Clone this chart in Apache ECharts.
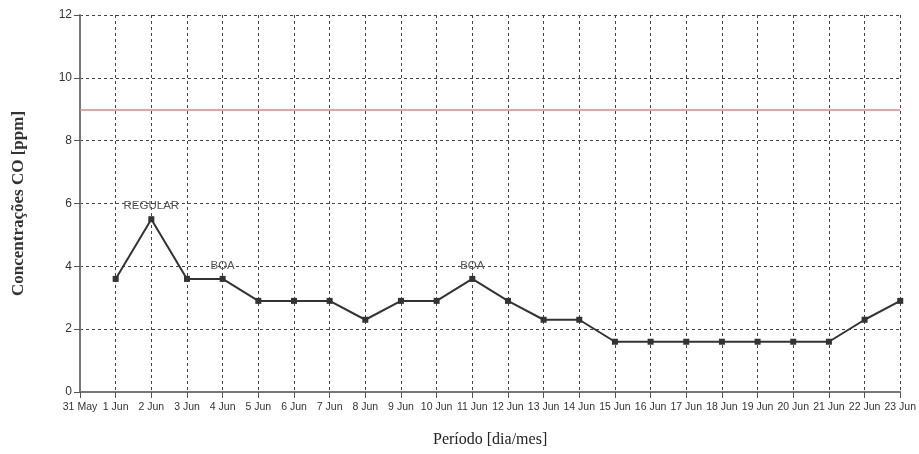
<!DOCTYPE html>
<html><head><meta charset="utf-8">
<script src="https://cdn.jsdelivr.net/npm/echarts@6/dist/echarts.min.js"></script>
<style>html,body{margin:0;padding:0;background:#fff}#c{width:919px;height:454px}</style>
</head><body><div id="c"></div>
<script>
const categories = ['31 May','1 Jun','2 Jun','3 Jun','4 Jun','5 Jun','6 Jun','7 Jun','8 Jun','9 Jun','10 Jun','11 Jun','12 Jun','13 Jun','14 Jun','15 Jun','16 Jun','17 Jun','18 Jun','19 Jun','20 Jun','21 Jun','22 Jun','23 Jun'];
const coValues = ['-',3.6,5.5,3.6,3.6,2.9,2.9,2.9,2.3,2.9,2.9,3.6,2.9,2.3,2.3,1.6,1.6,1.6,1.6,1.6,1.6,1.6,2.3,2.9];
const pointLabels = {'2 Jun':'REGULAR','4 Jun':'BOA','11 Jun':'BOA'};
const limitValue = 9;
const yTicks = {min:0, max:12, interval:2};

const narrow = "'Liberation Sans Narrow','Arial Narrow','Liberation Sans',sans-serif";
const seriesData = coValues.map((v,i)=>{
  const lab = pointLabels[categories[i]];
  if (lab) return {value:v, label:{show:true, formatter:lab}};
  return v;
});
const chart = echarts.init(document.getElementById('c'), null, {renderer:'canvas'});
chart.setOption({
  animation:false,
  grid:{left:80, right:16, top:15, bottom:62},
  xAxis:{
    type:'category', data:categories, boundaryGap:false,
    name:'Período [dia/mes]', nameLocation:'middle', nameGap:40,
    nameTextStyle:{fontFamily:"'Liberation Serif',serif", fontSize:16, color:'#222'},
    axisLine:{lineStyle:{color:'#777', width:2}},
    axisTick:{show:true, length:6, lineStyle:{color:'#555'}},
    axisLabel:{interval:0, fontFamily:narrow, fontSize:10.5, color:'#333', margin:10},
    splitLine:{show:true, interval:0, lineStyle:{type:[3,3], color:'#444', width:1}}
  },
  yAxis:{
    type:'value', min:yTicks.min, max:yTicks.max, interval:yTicks.interval,
    name:'Concentrações CO [ppm]', nameLocation:'middle', nameGap:53,
    nameTextStyle:{fontFamily:"'Liberation Serif',serif", fontSize:17, fontWeight:'bold', color:'#333'},
    axisLine:{show:true, lineStyle:{color:'#777', width:2}},
    axisTick:{show:true, length:6, lineStyle:{color:'#555'}},
    axisLabel:{fontFamily:narrow, fontSize:12, color:'#333', margin:8},
    splitLine:{show:true, lineStyle:{type:[3,3], color:'#444', width:1}}
  },
  series:[{
    type:'line', data:seriesData, connectNulls:false,
    symbol:'rect', symbolSize:6,
    lineStyle:{color:'#333', width:2},
    itemStyle:{color:'#333'},
    label:{show:false, position:'top', distance:4, fontFamily:narrow, fontSize:11.5, color:'#555'},
    markLine:{
      silent:true, symbol:'none', label:{show:false},
      lineStyle:{color:'#e88080', width:1.5, type:'solid'},
      data:[{yAxis:limitValue}]
    }
  }]
});
</script></body></html>
